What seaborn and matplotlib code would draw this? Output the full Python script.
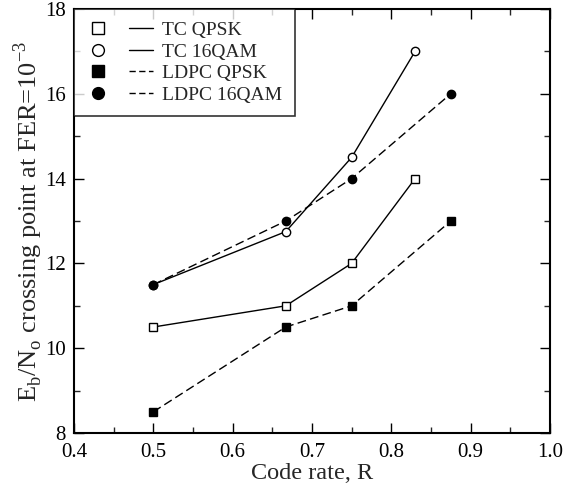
import matplotlib
matplotlib.use("Agg")
import matplotlib.pyplot as plt
import seaborn as sns
import pandas as pd
from matplotlib.lines import Line2D
from matplotlib.legend_handler import HandlerTuple
from matplotlib.ticker import MultipleLocator

sns.set_theme(style="ticks")
plt.rcParams['font.family'] = ['Liberation Serif', 'DejaVu Serif']
plt.rcParams['mathtext.fontset'] = 'custom'
plt.rcParams['mathtext.rm'] = 'Liberation Serif'

tc_qpsk_x = [0.5, 0.667, 0.75, 0.83]
tc_qpsk_y = [10.5, 11.0, 12.0, 14.0]
tc_16qam_x = [0.5, 0.667, 0.75, 0.83]
tc_16qam_y = [11.5, 12.75, 14.5, 17.0]
ldpc_qpsk_x = [0.5, 0.667, 0.75, 0.875]
ldpc_qpsk_y = [8.5, 10.5, 11.0, 13.0]
ldpc_16qam_x = [0.5, 0.667, 0.75, 0.875]
ldpc_16qam_y = [11.5, 13.0, 14.0, 16.0]
names = ["TC QPSK", "TC 16QAM", "LDPC QPSK", "LDPC 16QAM"]
xtick_labels = ["0.4", "0.5", "0.6", "0.7", "0.8", "0.9", "1.0"]

fig = plt.figure(figsize=(5.85, 4.86), dpi=100)
ax = fig.add_axes([0.1265, 0.109, 0.8135, 0.8725])

DASH = [6.3, 3.1]
series = [
    (tc_qpsk_x, tc_qpsk_y, 's', 'white', False),
    (tc_16qam_x, tc_16qam_y, 'o', 'white', False),
    (ldpc_qpsk_x, ldpc_qpsk_y, 's', 'black', True),
    (ldpc_16qam_x, ldpc_16qam_y, 'o', 'black', True),
]
handles = []
for name, (xs, ys, m, fc, dashed) in zip(names, series):
    df = pd.DataFrame({"x": xs, "y": ys})
    n_before = len(ax.lines)
    sns.lineplot(data=df, x="x", y="y", ax=ax, color='black', linewidth=1.0,
                 marker=m, markersize=6, markerfacecolor=fc,
                 markeredgecolor='black', markeredgewidth=1.0)
    if dashed:
        for ln_ in ax.lines[n_before:]:
            ln_.set_dashes(DASH)
    mk = Line2D([], [], linestyle='none', marker=m, markersize=8.5,
                markerfacecolor=fc, markeredgecolor='black', markeredgewidth=1.0)
    ln = Line2D([], [], color='black', linewidth=1.0)
    if dashed:
        ln.set_dashes([4.5, 2.5])
    handles.append((mk, ln))

ax.set_xlim(0.4, 1.0)
ax.set_ylim(8, 18)
ax.xaxis.set_major_locator(MultipleLocator(0.1))
ax.xaxis.set_minor_locator(MultipleLocator(0.05))
ax.yaxis.set_major_locator(MultipleLocator(2))
ax.yaxis.set_minor_locator(MultipleLocator(1))
ax.set_xticks([0.4, 0.5, 0.6, 0.7, 0.8, 0.9, 1.0])
ax.set_xticklabels(xtick_labels)
ax.tick_params(axis='both', which='major', direction='in', length=7, width=1,
               labelsize=15, colors='black', top=True, right=True)
ax.tick_params(axis='both', which='minor', direction='in', length=4, width=1,
               top=True, right=True)
ax.tick_params(axis='x', which='major', pad=7)
ax.tick_params(axis='y', which='major', pad=6)
for s in ax.spines.values():
    s.set_linewidth(1.5)
    s.set_color('black')

ax.set_xlabel("Code rate, R", fontsize=17.5, labelpad=1)
ax.set_ylabel(r"E$_\mathregular{b}$/N$_\mathregular{o}$ crossing point at FER=10$^\mathregular{-3}$",
              fontsize=19, labelpad=0)

leg = ax.legend(handles, names, handler_map={tuple: HandlerTuple(ndivide=None, pad=1.0)},
                loc='upper left', bbox_to_anchor=(0, 1), borderaxespad=0,
                fontsize=14, frameon=True, fancybox=False, handlelength=3.4,
                handletextpad=0.5, labelspacing=0.2, borderpad=0.65)
leg.get_frame().set_edgecolor('black')
leg.get_frame().set_linewidth(1.2)

fig.savefig("out.png", dpi=100)
